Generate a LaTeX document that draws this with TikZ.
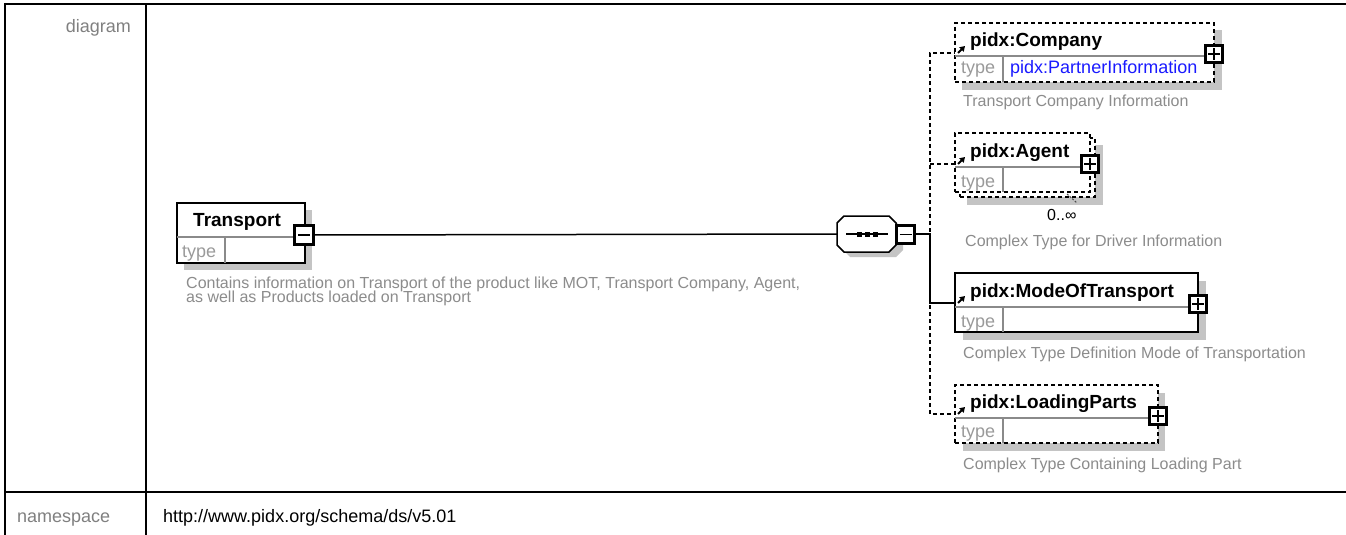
\documentclass[tikz,border=0pt]{standalone}
\usepackage{fontspec}
\setmainfont{Liberation Sans}
\usetikzlibrary{arrows.meta}
\definecolor{labelgray}{HTML}{808080}
\definecolor{typegray}{HTML}{9A9A9A}
\definecolor{descgray}{HTML}{8C8C8C}
\definecolor{shadowgray}{HTML}{C4C4C4}
\definecolor{divgray}{HTML}{8A8A8A}
\definecolor{linkblue}{HTML}{1A1AFF}
\tikzset{
  tableline/.style={line width=2.2pt, black},
  rowlabel/.style={font=\fontsize{18}{20}\selectfont, text=labelgray, inner sep=0},
  shadowbox/.style={fill=shadowgray, draw=none},
  elbox/.style={draw=black, line width=1.5pt, fill=white, anchor=north west, inner sep=0, outer sep=0},
  optbox/.style={elbox, dash pattern=on 4pt off 3pt},
  divline/.style={draw=divgray, line width=1.2pt},
  pmbox/.style={draw=black, line width=2.4pt, fill=white, minimum size=17pt, inner sep=0, outer sep=0},
  plusbox/.style={pmbox, path picture={
      \draw[line width=1.5pt] ([xshift=-6pt]path picture bounding box.center) -- ([xshift=6pt]path picture bounding box.center)
        ([yshift=-6pt]path picture bounding box.center) -- ([yshift=6pt]path picture bounding box.center);}},
  minusbox/.style={pmbox, path picture={
      \draw[line width=1.5pt] ([xshift=-6pt]path picture bounding box.center) -- ([xshift=6pt]path picture bounding box.center);}},
  ename/.style={font=\fontsize{19}{22}\selectfont\bfseries, anchor=base west, inner sep=0},
  typelbl/.style={font=\fontsize{18}{20}\selectfont, text=typegray, anchor=base west, inner sep=0},
  desc/.style={font=\fontsize{16}{14}\selectfont, text=descgray, anchor=base west, inner sep=0},
  conn/.style={line width=1.5pt, black},
  optconn/.style={conn, dash pattern=on 4pt off 3pt},
  refarrow/.style={line width=1.8pt, -{Triangle[length=5pt,width=6pt]}},
}
\begin{document}
\begin{tikzpicture}[x=1pt,y=-1pt]
\useasboundingbox (0,0) rectangle (1346,535);
\fill[white] (0,0) rectangle (1346,535);

% ---------------- table frame
\draw[tableline] (5,4) -- (1346,4);
\draw[tableline] (5,3) -- (5,535);
\draw[tableline] (146,4) -- (146,535);
\draw[tableline] (5,492) -- (1346,492);

\node[rowlabel, anchor=base east] (diaglbl) at (131,33) {diagram};
\node[rowlabel, anchor=base west] (nslbl) at (17,522) {namespace};
\node[rowlabel, anchor=base west, text=black] (nsval) at (163,522) {http://www.pidx.org/schema/ds/v5.01};

% ---------------- Transport
\fill[shadowbox] (184,210) rectangle (312,270);
\node[elbox, minimum width=128, minimum height=60] (transport) at (177,203) {};
\draw[divline] (177,237) -- (305,237) (225,237) -- (225,263);
\node[ename] (transportname) at (193,226) {Transport};
\node[typelbl] (transporttype) at (182,257) {type};
\node[minusbox, minimum size=19pt] (tminus) at (304,235) {};
\node[desc] (transportdesc) at (186,288) {Contains information on Transport of the product like MOT, Transport Company, Agent,};
\node[desc] (transportdesc2) at (186,302) {as well as Products loaded on Transport};

% ---------------- sequence compositor
\fill[shadowgray] (850,228) -- (857,222) -- (896,222) -- (903,228) -- (903,250) -- (896,257) -- (850,257) -- (843,250) -- cycle;
\node[inner sep=0, minimum width=59, minimum height=36] (seq) at (866.5,234) {};
\draw[line width=1.5pt, fill=white] (837,223) -- (844,216) -- (889,216) -- (896,223) -- (896,245) -- (889,252) -- (844,252) -- (837,245) -- cycle;
\draw[line width=1.5pt] (846,234) -- (888,234);
\fill (857,231.5) rectangle (862,236.5);
\fill (865,231.5) rectangle (870,236.5);
\fill (873,231.5) rectangle (878,236.5);
\node[minusbox, minimum size=18pt] (seqminus) at (905.5,234.5) {};
\draw[conn] (tminus.east) -- (seq.west);

% ---------------- bus
\coordinate (bus) at (930,234);
\coordinate (companyin) at (958,53);
\coordinate (agentin) at (958,164);
\coordinate (modein) at (958,303);
\coordinate (lpin) at (958,414);
\draw[optconn] (companyin) -- (930,53) -- (930,414) -- (lpin);
\draw[optconn] (930,164) -- (agentin);
\draw[conn] (seqminus.east |- bus) -- (bus) |- (modein);

% ---------------- pidx:Company
\fill[shadowbox] (962,30) rectangle (1222,90);
\node[optbox, minimum width=259, minimum height=59] (company) at (955,23) {};
\draw[divline] (955,56) -- (1214,56) (1003,56) -- (1003,82);
\node[ename] (companyname) at (970,47) {pidx:Company};
\node[typelbl] (companytype) at (961,74) {type};
\node[typelbl, text=linkblue] (companytyperef) at (1010,74) {pidx:PartnerInformation};
\node[plusbox] (companyplus) at (1214,54) {};
\draw[refarrow] (companyin) -- ++(7,-7);
\node[desc] (companydesc) at (963,106) {Transport Company Information};

% ---------------- pidx:Agent
\fill[shadowbox] (967,145) rectangle (1103,205);
\node[optbox, minimum width=135, minimum height=59] (agentback) at (960,138) {};
\node[optbox, minimum width=135, minimum height=59] (agent) at (955,133) {};
\draw[divline] (955,167) -- (1090,167) (1003,167) -- (1003,192);
\node[ename] (agentname) at (970,157) {pidx:Agent};
\node[typelbl] (agenttype) at (961,187) {type};
\node[plusbox] (agentplus) at (1090,164) {};
\draw[line width=1pt, dash pattern=on 2pt off 1.5pt, black!70] (1067,194) -- (1077,203);
\draw[refarrow] (agentin) -- ++(7,-7);
\node[font=\fontsize{16}{18}\selectfont, anchor=base west, inner sep=0] (agentcard) at (1047,220) {0..∞};
\node[desc] (agentdesc) at (965,246) {Complex Type for Driver Information};

% ---------------- pidx:ModeOfTransport
\fill[shadowbox] (963,281) rectangle (1206,340);
\node[elbox, minimum width=243, minimum height=59] (mode) at (955,273) {};
\draw[divline] (955,307) -- (1198,307) (1003,307) -- (1003,332);
\node[ename] (modename) at (970,297) {pidx:ModeOfTransport};
\node[typelbl] (modetype) at (961,327) {type};
\node[plusbox] (modeplus) at (1198,304) {};
\draw[refarrow] (modein) -- ++(7,-7);
\node[desc] (modedesc) at (963,358) {Complex Type Definition Mode of Transportation};

% ---------------- pidx:LoadingParts
\fill[shadowbox] (963,393) rectangle (1165,451);
\node[optbox, minimum width=203, minimum height=58] (lp) at (955,385) {};
\draw[divline] (955,418) -- (1158,418) (1003,418) -- (1003,443);
\node[ename] (lpname) at (970,408) {pidx:LoadingParts};
\node[typelbl] (lptype) at (961,437) {type};
\node[plusbox] (lpplus) at (1158,416) {};
\draw[refarrow] (lpin) -- ++(7,-7);
\node[desc] (lpdesc) at (963,469) {Complex Type Containing Loading Part};
\end{tikzpicture}
\end{document}
